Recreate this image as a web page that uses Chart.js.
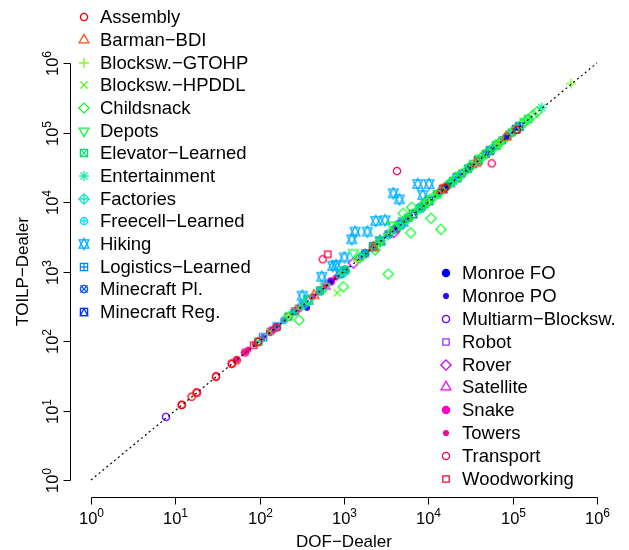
<!DOCTYPE html>
<html><head><meta charset="utf-8">
<script src="https://cdn.jsdelivr.net/npm/chart.js@4"></script>
<style>html,body{margin:0;padding:0;background:#fff}#wrap{width:629px;height:550px;position:relative}</style>
</head><body><div id="wrap"><canvas id="c"></canvas></div>
<script>
// ---------- data (DOF-Dealer x, TOILP-Dealer y) ----------
const assembly = [[11.9,12.0],[15.6,15.8],[17.9,18.0],[30.4,30.6],[46.6,47.0],[53.4,53.0],[96,97],[159,157],[15800,16100],[112000,109000]];
const barmanBDI = [[440,452],[2230,2200],[14300,14900],[36500,36000],[84000,86000]];
const blockswGTOHP = [[219,228],[1460,1420],[3350,3500],[492000,505000],[68000,70000]];
const blockswHPDDL = [[833,494],[133,137],[287,296],[2680,2630],[9640,9900]];
const childsnack = [[5050,6870],[6350,8390],[10760,5830],[14130,4040],[6180,3610],[2333,2040],[3350,920],[982,604],[293,200],
  [6580,6700],[7970,8100],[9640,9900],[11370,11600],[13770,14000],[16680,17100],[20720,21200],[25080,25700],[31190,32000],
  [38810,39600],[48300,49500],[58480,59800],[70790,72500],[85700,87600],[106600,109000],[129100,132000],[152100,155000],
  [174300,178000],[194500,198000],[1550,1600],[2680,2750],[377,389],[4100,4250],[5500,5650],[18500,19200],[43000,44500],[95000,98000]];
const depots = [[3675,4670],[1290,1866],[4600,4700],[23700,24300],[41000,42000],[70700,71000],[600,612],[11000,11300],[140000,144000]];
const elevatorLearned = [[96.4,98],[219,225],[520,530],[1028,1050],[2228,2280],[5790,5900],[12700,13000],[29500,30200],[63500,65000],[152000,156000],[9000,9250],[34000,35000]];
const entertainment = [[221000,228000],[251,258],[900,915],[1775,1810],[7950,8150],[53900,55000]];
const factories = [[329,336],[1028,1000],[3355,3420],[19600,20000]];
const freecellLearned = [[194,199],[520,512],[1550,1580],[4600,4520]];
const hiking = [[7480,18150],[10190,18150],[3845,13340],[4530,10930],[8580,12610],[2377,5330],[3065,5460],[1352,3740],
  [1890,3740],[1234,2905],[1009,1600],[735,1200],[804,1240],[544,841],[320,448],[377,389],[2680,2740],[5050,5150]];
const logisticsLearned = [[110,113],[159,162],[329,338],[900,925],[2680,2750],[7950,8100],[21900,22500]];
const minecraftPl = [[8350,8500],[12700,13000],[19600,20100],[29500,30300],[48300,49500],[63500,65000],[97500,100000],[3355,3430],[1775,1820],[25000,25600],[75000,77000]];
const minecraftReg = [[10200,10450],[21900,22500],[53900,55300],[109600,112000],[4600,4710],[6580,6750],[2228,2290],[38810,39800],[15000,15400],[120000,123000]];
const monroeFO = [[3355,3440],[1775,1820],[8350,8560],[16680,17100],[31190,32000],[85700,87800],[1028,1055]];
const monroePO = [[364,301],[251,258],[700,720],[4220,4330],[29500,30300],[53900,55200],[13770,14100]];
const multiarmBlocksw = [[7.75,8.1],[4220,4180],[3900,4000],[29500,30000],[53900,54500],[900,920]];
const robot = [[2230,2290],[5790,5950],[63500,65200]];
const rover = [[3900,3650],[4400,4350],[1290,1320]];
const satellite = [[600,615],[2680,2760],[18000,18400]];
const snake = [[139,142],[287,295],[1028,1055],[1550,1590],[2228,2285],[5050,5180],[5790,5940],[700,720],[520,534]];
const towers = [[53.4,54],[67,68.5],[73.3,75],[88,90],[110,113],[133,136],[159,163],[194,199],[251,257],[329,338],[430,440],[600,615],[800,820]];
const transport = [[56400,36000],[560,1500],[4250,27900],[11.9,12.1],[17.9,18.2],[30.4,31],[46.6,47.5],[67,68.5],[96.4,98.5],[133,136],[219,224],[377,387]];
const woodworking = [[641,1770],[48000,49000],[263,270],[85,87],[4800,4930]];

const seriesNames = ["Assembly","Barman\u2212BDI","Blocksw.\u2212GTOHP","Blocksw.\u2212HPDDL","Childsnack","Depots",
  "Elevator\u2212Learned","Entertainment","Factories","Freecell\u2212Learned","Hiking","Logistics\u2212Learned",
  "Minecraft Pl.","Minecraft Reg.","Monroe FO","Monroe PO","Multiarm\u2212Blocksw.","Robot","Rover","Satellite",
  "Snake","Towers","Transport","Woodworking"];
const seriesData = [assembly,barmanBDI,blockswGTOHP,blockswHPDDL,childsnack,depots,elevatorLearned,entertainment,
  factories,freecellLearned,hiking,logisticsLearned,minecraftPl,minecraftReg,monroeFO,monroePO,multiarmBlocksw,
  robot,rover,satellite,snake,towers,transport,woodworking];
const tickValues = [1,10,100,1000,10000,100000,1000000];
const tickExponents = ["0","1","2","3","4","5","6"];
const diagonal = [[1,1],[1000000,1000000]];

// ---------- styles ----------
const seriesColors = ["#FF0000","#FF4A1A","#70FF00","#40FF00","#10FF30","#00FF40","#00E070","#00F0A0","#00E8C8",
  "#00E0FF","#00B0FF","#0088FF","#0050FF","#0030FF","#0000FF","#3300FF","#6600FF","#9933FF","#CC00FF","#FF00FF",
  "#FF00CC","#FF0099","#FF0066","#FF0033"];
const seriesPch = [1,2,3,4,5,6,7,8,9,10,11,12,13,14,19,20,1,0,5,2,19,20,1,0];
const FONT = '"Liberation Sans", Arial, Helvetica, sans-serif';

const RADIUS = 3.6, TRC0 = 1.5551203, TRC1 = 1.3467737, TRC2 = 0.7775602, SQRC = 0.8862269;
function symbolCanvas(pch, color) {
  const S = 18, cv = document.createElement('canvas'); cv.width = S; cv.height = S;
  const g = cv.getContext('2d'); g.translate(S/2, S/2);
  g.strokeStyle = color; g.fillStyle = color; g.lineWidth = 1.3;
  const R = RADIUS;
  const circle = (r, fill) => { g.beginPath(); g.arc(0,0,r,0,2*Math.PI); if (fill) g.fill(); g.stroke(); };
  const poly = (pts, fill) => { g.beginPath(); pts.forEach((p,i)=> i ? g.lineTo(p[0],p[1]) : g.moveTo(p[0],p[1])); g.closePath(); if (fill) g.fill(); g.stroke(); };
  const seg = (a,b,c,d) => { g.beginPath(); g.moveTo(a,b); g.lineTo(c,d); g.stroke(); };
  const plus = r => { seg(-r,0,r,0); seg(0,-r,0,r); };
  const times = r => { seg(-r,-r,r,r); seg(-r,r,r,-r); };
  const sq = (r, fill) => poly([[-r,-r],[r,-r],[r,r],[-r,r]], fill);
  const dia = (r, fill) => poly([[0,-r],[r,0],[0,r],[-r,0]], fill);
  const tri = (up, fill) => { const r = TRC0*R, yc = TRC2*R, xc = TRC1*R;
    poly(up ? [[0,-r],[xc,yc],[-xc,yc]] : [[0,r],[xc,-yc],[-xc,-yc]], fill); };
  switch (pch) {
    case 0: sq(R*SQRC); break;
    case 1: circle(R); break;
    case 2: tri(true); break;
    case 3: plus(Math.SQRT2*R); break;
    case 4: times(R); break;
    case 5: dia(Math.SQRT2*R); break;
    case 6: tri(false); break;
    case 7: sq(R); times(R); break;
    case 8: times(R); plus(Math.SQRT2*R); break;
    case 9: dia(Math.SQRT2*R); plus(Math.SQRT2*R); break;
    case 10: circle(R); plus(R); break;
    case 11: { const r = TRC0*R; let yc = TRC2*R; yc = 0.5*(yc + r); const xc = TRC1*R;
      poly([[0,-r],[xc,yc],[-xc,yc]]); poly([[0,r],[xc,-yc],[-xc,-yc]]); break; }
    case 12: sq(R); plus(R); break;
    case 13: circle(R); times(R); break;
    case 14: sq(R); poly([[0,-R],[R,R],[-R,R]]); break;
    case 19: circle(R, true); break;
    case 20: circle(R*2/3, true); break;
  }
  return cv;
}
const symbols = seriesPch.map((p,i) => symbolCanvas(p, seriesColors[i]));

const datasets = [{
  type: 'line', label: 'y = x', data: diagonal.map(p => ({x:p[0], y:p[1]})),
  showLine: true, borderColor: '#000', borderWidth: 1.2, borderDash: [2, 3], pointRadius: 0, fill: false, clip: false, order: 0
}];
seriesData.forEach((arr, i) => datasets.push({
  label: seriesNames[i], data: arr.map(p => ({x:p[0], y:p[1]})),
  pointStyle: symbols[i], pointRadius: 4, clip: false, order: 1
}));

function supLabel(ctx, base, sup, x, y) {
  ctx.font = '16.5px ' + FONT; const wb = ctx.measureText(base).width;
  ctx.font = '12px ' + FONT; const ws = ctx.measureText(sup).width;
  const start = x - (wb + ws) / 2;
  ctx.font = '16.5px ' + FONT; ctx.fillText(base, start, y);
  ctx.font = '12px ' + FONT; ctx.fillText(sup, start + wb, y - 7.5);
}

const rPlugin = {
  id: 'rstyle',
  afterDraw(chart) {
    const ctx = chart.ctx, xs = chart.scales.x, ys = chart.scales.y;
    ctx.save();
    ctx.strokeStyle = '#000'; ctx.fillStyle = '#000'; ctx.lineWidth = 1;
    // x axis
    const xa0 = xs.getPixelForValue(tickValues[0]), xa1 = xs.getPixelForValue(tickValues[tickValues.length-1]);
    const axY = 497.5;
    ctx.beginPath(); ctx.moveTo(Math.round(xa0)+0.5, axY); ctx.lineTo(Math.round(xa1)+0.5, axY); ctx.stroke();
    tickValues.forEach((v, i) => {
      const px = Math.round(xs.getPixelForValue(v)) + 0.5;
      ctx.beginPath(); ctx.moveTo(px, axY); ctx.lineTo(px, axY + 7); ctx.stroke();
      ctx.textBaseline = 'alphabetic'; ctx.textAlign = 'left';
      supLabel(ctx, '10', tickExponents[i], px, 524);
    });
    // y axis
    const ya0 = ys.getPixelForValue(tickValues[0]), ya1 = ys.getPixelForValue(tickValues[tickValues.length-1]);
    const axX = 70.5;
    ctx.beginPath(); ctx.moveTo(axX, Math.round(ya0)+0.5); ctx.lineTo(axX, Math.round(ya1)+0.5); ctx.stroke();
    tickValues.forEach((v, i) => {
      const py = Math.round(ys.getPixelForValue(v)) + 0.5;
      ctx.beginPath(); ctx.moveTo(axX, py); ctx.lineTo(axX - 7, py); ctx.stroke();
      ctx.save(); ctx.translate(58, py); ctx.rotate(-Math.PI/2);
      supLabel(ctx, '10', tickExponents[i], 0, 0);
      ctx.restore();
    });
    // axis titles
    ctx.font = '17px ' + FONT; ctx.textAlign = 'center'; ctx.textBaseline = 'alphabetic';
    ctx.fillText('DOF\u2212Dealer', (xa0 + xa1) / 2, 547);
    ctx.save(); ctx.translate(28, (ya0 + ya1) / 2); ctx.rotate(-Math.PI/2);
    ctx.fillText('TOILP\u2212Dealer', 0, 0); ctx.restore();
    // legends
    ctx.font = '18.5px ' + FONT; ctx.textAlign = 'left'; ctx.textBaseline = 'middle';
    for (let i = 0; i < 14; i++) {
      const y = 17.3 + i * 22.67;
      ctx.drawImage(symbols[i], 84 - 9, Math.round(y) - 9);
      ctx.fillText(seriesNames[i], 100, y + 1);
    }
    for (let i = 14; i < 24; i++) {
      const y = 273.3 + (i - 14) * 22.8;
      ctx.drawImage(symbols[i], 446 - 9, Math.round(y) - 9);
      ctx.fillText(seriesNames[i], 462, y + 1);
    }
    ctx.restore();
  }
};

new Chart(document.getElementById('c'), {
  type: 'scatter',
  data: { datasets },
  options: {
    responsive: true, maintainAspectRatio: false, animation: false,
    layout: { padding: { left: 91, right: 32, top: 63, bottom: 70 } },
    scales: {
      x: { type: 'logarithmic', min: 1, max: 1000000, display: false },
      y: { type: 'logarithmic', min: 1, max: 1000000, display: false }
    },
    plugins: { legend: { display: false }, tooltip: { enabled: false } }
  },
  plugins: [rPlugin]
});
</script>
</body></html>
